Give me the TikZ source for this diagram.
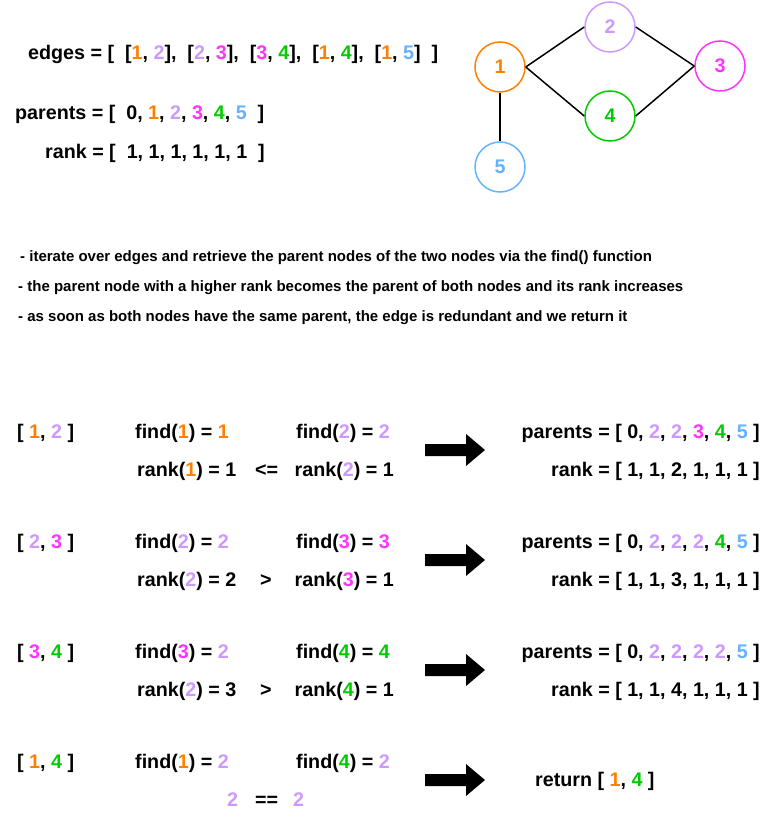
\documentclass[tikz,border=0pt]{standalone}
\usepackage{fontspec}
\setmainfont{Liberation Sans}
\definecolor{cor}{HTML}{FF8000}
\definecolor{clv}{HTML}{CC99FF}
\definecolor{cmg}{HTML}{FF33FF}
\definecolor{cgr}{HTML}{00CC00}
\definecolor{cbl}{HTML}{66B2FF}
\newcommand\nOne{\textcolor{cor}{1}}
\newcommand\nTwo{\textcolor{clv}{2}}
\newcommand\nThree{\textcolor{cmg}{3}}
\newcommand\nFour{\textcolor{cgr}{4}}
\newcommand\nFive{\textcolor{cbl}{5}}
\begin{document}
\begin{tikzpicture}[x=1pt,y=-1pt,
  txt/.style={inner sep=0pt, anchor=base west, font=\bfseries\fontsize{19.7}{22}\selectfont},
  txtr/.style={txt, anchor=base east},
  desc/.style={inner sep=0pt, anchor=base west, font=\bfseries\fontsize{15}{17}\selectfont},
  gnode/.style={circle, minimum size=50pt, inner sep=0pt, line width=1.5pt, draw=#1, text=#1, font=\bfseries\fontsize{19.7}{22}\selectfont},
  gedge/.style={line width=1.5pt, black},
  bigarrow/.style={fill=black}]
\useasboundingbox (0,0) rectangle (775,821);

% top arrays
\node[txt] (edges) at (28,59.3) {edges = [\ \ [\nOne, \nTwo],\ \ [\nTwo, \nThree],\ \ [\nThree, \nFour],\ \ [\nOne, \nFour],\ \ [\nOne, \nFive]\ \ ]};
\node[txt] (parents) at (15,119.3) {parents = [\ \ 0, \nOne, \nTwo, \nThree, \nFour, \nFive\ \ ]};
\node[txt] (rank) at (45,158.3) {rank = [\ \ 1, 1, 1, 1, 1, 1\ \ ]};

% graph
\node[gnode=cor] (g1) at (500,67) {1};
\node[gnode=clv] (g2) at (610,27) {2};
\node[gnode=cmg] (g3) at (720,66) {3};
\node[gnode=cgr] (g4) at (610,116) {4};
\node[gnode=cbl] (g5) at (500,167) {5};
\draw[gedge] (g1.east) -- (g2.west);
\draw[gedge] (g2.east) -- (g3.west);
\draw[gedge] (g1.east) -- (g4.west);
\draw[gedge] (g4.east) -- (g3.west);
\draw[gedge] (g1.south) -- (g5.north);

% description
\node[desc] (d1) at (20,261) {- iterate over edges and retrieve the parent nodes of the two nodes via the find() function};
\node[desc] (d2) at (18,291) {- the parent node with a higher rank becomes the parent of both nodes and its rank increases};
\node[desc] (d3) at (18,321) {- as soon as both nodes have the same parent, the edge is redundant and we return it};

% row 1
\node[txt] (e1) at (17,438.3) {[ \nOne, \nTwo{} ]};
\node[txt] (f1a) at (135,438.3) {find(\nOne) = \nOne};
\node[txt] (f1b) at (296,438.3) {find(\nTwo) = \nTwo};
\node[txt] (r1a) at (137,476) {rank(\nOne) = 1};
\node[txt] (c1) at (255,476) {<=};
\node[txt] (r1b) at (294.5,476) {rank(\nTwo) = 1};
\node[txtr] (p1) at (760,438.3) {parents = [ 0, \nTwo, \nTwo, \nThree, \nFour, \nFive{} ]};
\node[txtr] (k1) at (760,476) {rank = [ 1, 1, 2, 1, 1, 1 ]};

% row 2
\node[txt] (e2) at (17,548.3) {[ \nTwo, \nThree{} ]};
\node[txt] (f2a) at (135,548.3) {find(\nTwo) = \nTwo};
\node[txt] (f2b) at (296,548.3) {find(\nThree) = \nThree};
\node[txt] (r2a) at (137,586) {rank(\nTwo) = 2};
\node[txt] (c2) at (260,586) {>};
\node[txt] (r2b) at (294.5,586) {rank(\nThree) = 1};
\node[txtr] (p2) at (760,548.3) {parents = [ 0, \nTwo, \nTwo, \nTwo, \nFour, \nFive{} ]};
\node[txtr] (k2) at (760,586) {rank = [ 1, 1, 3, 1, 1, 1 ]};

% row 3
\node[txt] (e3) at (17,658.3) {[ \nThree, \nFour{} ]};
\node[txt] (f3a) at (135,658.3) {find(\nThree) = \nTwo};
\node[txt] (f3b) at (296,658.3) {find(\nFour) = \nFour};
\node[txt] (r3a) at (137,696) {rank(\nTwo) = 3};
\node[txt] (c3) at (260,696) {>};
\node[txt] (r3b) at (294.5,696) {rank(\nFour) = 1};
\node[txtr] (p3) at (760,658.3) {parents = [ 0, \nTwo, \nTwo, \nTwo, \nTwo, \nFive{} ]};
\node[txtr] (k3) at (760,696) {rank = [ 1, 1, 4, 1, 1, 1 ]};

% row 4
\node[txt] (e4) at (17,768.3) {[ \nOne, \nFour{} ]};
\node[txt] (f4a) at (135,768.3) {find(\nOne) = \nTwo};
\node[txt] (f4b) at (296,768.3) {find(\nFour) = \nTwo};
\node[txt] (v4a) at (227,806) {\nTwo};
\node[txt] (c4) at (255,806) {==};
\node[txt] (v4b) at (293,806) {\nTwo};
\node[txt] (ret) at (535,786.7) {return [ \nOne, \nFour{} ]};

% big arrows
\foreach \yy in {450,560,670,780}{
  \fill[bigarrow] (425,\yy-6) -- (466,\yy-6) -- (466,\yy-16) -- (485,\yy) -- (466,\yy+16) -- (466,\yy+6) -- (425,\yy+6) -- cycle;
}
\end{tikzpicture}
\end{document}
